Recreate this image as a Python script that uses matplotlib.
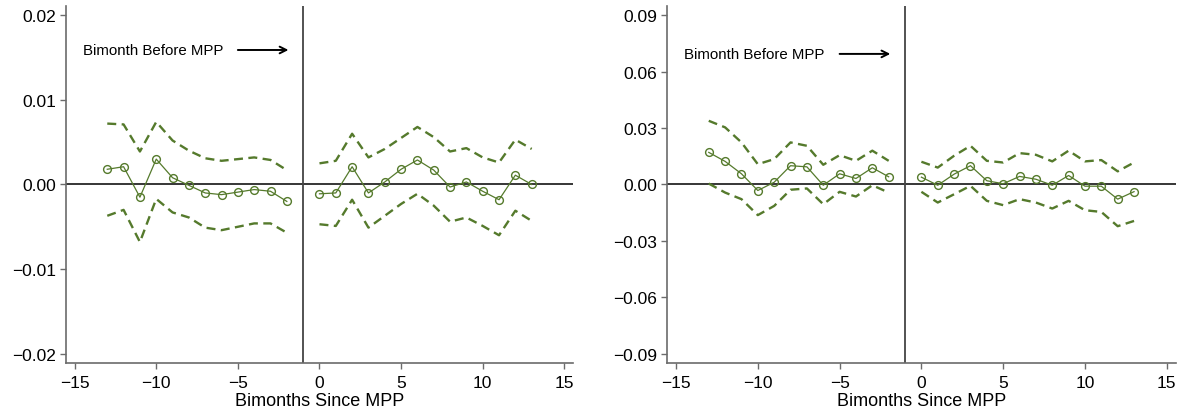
import matplotlib
matplotlib.use("Agg")
import matplotlib.pyplot as plt
from matplotlib.ticker import FuncFormatter

# Event time (bimonths since MPP); the bimonth before MPP (-1) is the omitted period
pre_periods = [-13, -12, -11, -10, -9, -8, -7, -6, -5, -4, -3, -2]
post_periods = [0, 1, 2, 3, 4, 5, 6, 7, 8, 9, 10, 11, 12, 13]

# Panel A estimates and 95% confidence bounds
a_pre_coef = [0.0018, 0.0021, -0.0015, 0.0030, 0.0008, -0.0001, -0.0010,
              -0.0012, -0.0009, -0.0006, -0.0008, -0.0020]
a_pre_hi = [0.0072, 0.0071, 0.0039, 0.0074, 0.0052, 0.0040, 0.0031,
            0.0028, 0.0030, 0.0032, 0.0029, 0.0017]
a_pre_lo = [-0.0037, -0.0030, -0.0068, -0.0017, -0.0033, -0.0039, -0.0051,
            -0.0054, -0.0050, -0.0046, -0.0046, -0.0057]
a_post_coef = [-0.0011, -0.0010, 0.0021, -0.0010, 0.0003, 0.0018, 0.0029,
               0.0017, -0.0003, 0.0003, -0.0008, -0.0018, 0.0011, 0.0000]
a_post_hi = [0.0025, 0.0028, 0.0060, 0.0032, 0.0042, 0.0055, 0.0068,
             0.0056, 0.0039, 0.0043, 0.0032, 0.0026, 0.0053, 0.0042]
a_post_lo = [-0.0047, -0.0049, -0.0018, -0.0051, -0.0037, -0.0023, -0.0011,
             -0.0025, -0.0044, -0.0039, -0.0049, -0.0060, -0.0031, -0.0043]

# Panel B estimates and 95% confidence bounds
b_pre_coef = [0.0171, 0.0123, 0.0057, -0.0032, 0.0012, 0.0100, 0.0094,
              -0.0004, 0.0057, 0.0032, 0.0089, 0.0041]
b_pre_hi = [0.0339, 0.0304, 0.0224, 0.0108, 0.0135, 0.0224, 0.0206,
            0.0105, 0.0156, 0.0126, 0.0180, 0.0126]
b_pre_lo = [0.0005, -0.0043, -0.0078, -0.0163, -0.0114, -0.0028, -0.0021,
            -0.0105, -0.0039, -0.0064, -0.0004, -0.0043]
b_post_coef = [0.0039, -0.0004, 0.0055, 0.0100, 0.0020, 0.0004, 0.0043,
               0.0028, -0.0004, 0.0048, -0.0009, -0.0009, -0.0078, -0.0038]
b_post_hi = [0.0121, 0.0090, 0.0153, 0.0206, 0.0126, 0.0117, 0.0167,
             0.0158, 0.0123, 0.0180, 0.0123, 0.0130, 0.0070, 0.0117]
b_post_lo = [-0.0039, -0.0096, -0.0052, -0.0007, -0.0087, -0.0110, -0.0078,
             -0.0096, -0.0128, -0.0087, -0.0137, -0.0146, -0.0222, -0.0194]

a_yticks = [-0.02, -0.01, 0.00, 0.01, 0.02]
b_yticks = [-0.09, -0.06, -0.03, 0.00, 0.03, 0.06, 0.09]
x_ticks = [-15, -10, -5, 0, 5, 10, 15]
x_label = "Bimonths Since MPP"
note_text = "Bimonth Before MPP"

plt.rcParams["font.family"] = ["Liberation Sans", "DejaVu Sans"]

GREEN = "#557a2c"
SPINE = "#6b6b6b"

fig = plt.figure(figsize=(11.85, 4.14), dpi=100)
ax_a = fig.add_axes([0.0554, 0.1208, 0.4284, 0.8623])
ax_b = fig.add_axes([0.5629, 0.1208, 0.4293, 0.8623])


def two_decimals(v, _pos):
    s = f"{v:.2f}"
    if s.startswith("-"):
        s = "\u2212" + s[1:]
    return s


def draw_panel(ax, pre, post, yticks, ylim, note_y):
    for xs, (coef, hi, lo) in zip((pre_periods, post_periods), (pre, post)):
        ax.plot(xs, hi, color=GREEN, lw=1.7, dashes=(3.8, 2.3), zorder=3)
        ax.plot(xs, lo, color=GREEN, lw=1.7, dashes=(3.8, 2.3), zorder=3)
        ax.plot(xs, coef, color=GREEN, lw=0.9, marker="o", ms=5.6,
                mfc="none", mec=GREEN, mew=1.0, zorder=4)
    ax.axhline(0, color="black", lw=1.1, zorder=2)
    ax.axvline(-1, color="#444444", lw=1.3, zorder=2)
    ax.set_xlim(-15.55, 15.55)
    ax.set_ylim(*ylim)
    ax.set_xticks(x_ticks)
    ax.set_yticks(yticks)
    ax.yaxis.set_major_formatter(FuncFormatter(two_decimals))
    for side in ("top", "right"):
        ax.spines[side].set_visible(False)
    for side in ("left", "bottom"):
        ax.spines[side].set_color(SPINE)
        ax.spines[side].set_linewidth(1.2)
    ax.tick_params(axis="both", direction="out", length=4, width=1.0,
                   color=SPINE, labelsize=12.5)
    ax.tick_params(axis="x", pad=4.5)
    ax.tick_params(axis="y", pad=3)
    ax.set_xlabel(x_label, fontsize=13, labelpad=1.5)
    ax.text(-14.5, note_y, note_text, fontsize=10.8, va="center", ha="left")
    ax.annotate("", xy=(-1.9, note_y), xytext=(-5.0, note_y),
                arrowprops=dict(arrowstyle="->", color="black", lw=1.4,
                                shrinkA=0, shrinkB=0, mutation_scale=12))


draw_panel(ax_a, (a_pre_coef, a_pre_hi, a_pre_lo),
           (a_post_coef, a_post_hi, a_post_lo),
           a_yticks, (-0.0211, 0.0211), 0.0159)
draw_panel(ax_b, (b_pre_coef, b_pre_hi, b_pre_lo),
           (b_post_coef, b_post_hi, b_post_lo),
           b_yticks, (-0.095, 0.095), 0.0695)

fig.savefig("out.png", dpi=100)
